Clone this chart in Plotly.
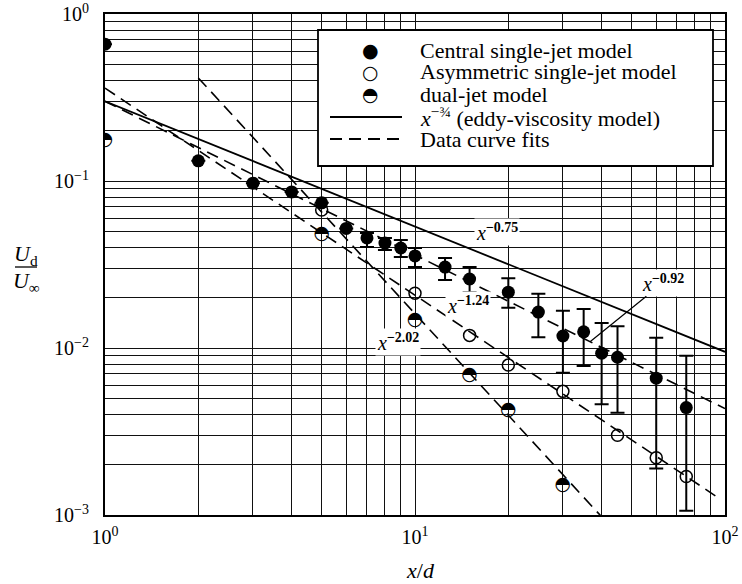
import math
import plotly.graph_objects as go

SERIF = "Liberation Serif, Times New Roman, serif"
GLYPH = "DejaVu Sans"

# ---- measured data -------------------------------------------------------
# Central single-jet model (filled circles) with error bounds
central_x = [1, 2, 3, 4, 5, 6, 7, 8, 9, 10, 12.5, 15, 20, 25, 30, 35, 40, 45, 60, 75]
central_y = [0.66, 0.132, 0.097, 0.086, 0.074, 0.052, 0.0456, 0.0425, 0.0397, 0.0356,
             0.0305, 0.0259, 0.0216, 0.0164, 0.0118, 0.0125, 0.0093, 0.0088, 0.0066, 0.0044]
central_hi = [None, None, None, None, None, None, 0.0489, 0.0456, 0.0443, 0.0397,
              0.0346, 0.0305, 0.0262, 0.0211, 0.0167, 0.0171, 0.0141, 0.0135, 0.0115, 0.0090]
central_lo = [None, None, None, None, None, None, 0.0403, 0.0386, 0.0351, 0.0305,
              0.0255, 0.0216, 0.0174, 0.0116, 0.0071, 0.0078, 0.0046, 0.0041, 0.0019, 0.00106]

# Asymmetric single-jet model (open circles)
asym_x = [5, 10, 15, 20, 30, 45, 60, 75]
asym_y = [0.067, 0.0213, 0.0119, 0.0079, 0.0055, 0.0030, 0.0022, 0.0017]

# Dual-jet model (half-filled circles)
dual_x = [1, 5, 10, 15, 20, 30]
dual_y = [0.176, 0.048, 0.0147, 0.0069, 0.00425, 0.00151]

# Power-law curves  y = coef * x**expo  over [x_start, x_end]
eddy_fit = dict(coef=0.30, expo=-0.75, x_start=1, x_end=100)
central_fit = dict(coef=0.30, expo=-0.92, x_start=1, x_end=100)
asym_fit = dict(coef=0.36, expo=-1.24, x_start=1, x_end=96)
dual_fit = dict(coef=1.68, expo=-2.02, x_start=2, x_end=40)

# Axis ticks
x_decades = [0, 1, 2]
y_decades = [-3, -2, -1, 0]


def powerlaw(fit, x):
    return fit["coef"] * x ** fit["expo"]


def grid_vals(decades):
    vals = []
    for d in decades[:-1]:
        vals += [m * 10.0 ** d for m in range(1, 10)]
    vals.append(10.0 ** decades[-1])
    return vals


def grid_text(decades):
    out = []
    for v in grid_vals(decades):
        e = math.log10(v)
        if abs(e - round(e)) < 1e-9:
            p = int(round(e))
            s = str(p) if p >= 0 else "\u2212" + str(-p)
            out.append("10<sup>" + s + "</sup>")
        else:
            out.append("")
    return out


fig = go.Figure()

# fitted / model lines
for fit, dash in [(eddy_fit, "solid"), (central_fit, "12px,7px"),
                  (asym_fit, "12px,7px"), (dual_fit, "12px,7px")]:
    xs = [fit["x_start"], fit["x_end"]]
    fig.add_trace(go.Scatter(
        x=xs, y=[powerlaw(fit, v) for v in xs], mode="lines",
        line=dict(color="black", width=1.8 if dash == "solid" else 1.6, dash=dash),
        hoverinfo="skip", showlegend=False))

# central single-jet points with error bars
err_plus = [None if h is None else h - y for h, y in zip(central_hi, central_y)]
err_minus = [None if lo is None else y - lo for lo, y in zip(central_lo, central_y)]
fig.add_trace(go.Scatter(
    x=central_x, y=central_y, mode="markers",
    marker=dict(symbol="circle", size=13, color="black"),
    error_y=dict(type="data", symmetric=False, array=err_plus, arrayminus=err_minus,
                 color="black", thickness=2, width=7),
    showlegend=False))

# asymmetric single-jet points
fig.add_trace(go.Scatter(
    x=asym_x, y=asym_y, mode="markers",
    marker=dict(symbol="circle-open", size=12, color="black", line=dict(width=1.5)),
    showlegend=False))

# dual-jet points (upper half filled)
fig.add_trace(go.Scatter(
    x=dual_x, y=dual_y, mode="text", text=["\u25d3"] * len(dual_x),
    textposition="middle center",
    textfont=dict(family=GLYPH, size=19, color="black"),
    showlegend=False))

# ---- fit labels ----------------------------------------------------------
def fit_label(exp_text):
    return ("<i>x</i><sup><b>" + exp_text + "</b></sup>")

label_font = dict(family=SERIF, size=20, color="black")
for txt, lx, ly in [("\u22120.75", 18.4, 0.0495),
                    ("\u22121.24", 14.8, 0.0181),
                    ("\u22122.02", 8.8, 0.0109)]:
    fig.add_annotation(x=math.log10(lx), y=math.log10(ly), xref="x", yref="y",
                       text=fit_label(txt), showarrow=False, font=label_font,
                       bgcolor="white", borderpad=1)

tip_x = 36.7
fig.add_annotation(x=math.log10(tip_x), y=math.log10(powerlaw(central_fit, tip_x)),
                   xref="x", yref="y", text=fit_label("\u22120.92"),
                   showarrow=True, arrowhead=0, arrowwidth=1.2, arrowcolor="black",
                   ax=73, ay=-59, font=label_font, bgcolor="white", borderpad=1)

# ---- legend (drawn by hand) ----------------------------------------------
L, R, T, B = 105, 725, 14, 515


def px(xp):
    return (xp - L) / (R - L)


def py(yp):
    return (B - yp) / (B - T)


def note(xp, yp, text, size, family=SERIF, xanchor="center"):
    fig.add_annotation(x=px(xp), y=py(yp), xref="paper", yref="paper", text=text,
                       xanchor=xanchor, yanchor="middle", showarrow=False,
                       font=dict(family=family, size=size, color="black"))


fig.add_shape(type="rect", xref="paper", yref="paper",
              x0=px(318), x1=px(713), y0=py(166), y1=py(30),
              line=dict(color="black", width=1.8), fillcolor="white", layer="above")

legend_rows = [50, 72, 94, 117, 139]
legend_labels = ["Central single-jet model", "Asymmetric single-jet model",
                 "dual-jet model",
                 "<i>x</i><sup>\u2212\u00be</sup> (eddy-viscosity model)",
                 "Data curve fits"]
legend_glyphs = ["\u25cf", "\u25cb", "\u25d3"]
for g, row in zip(legend_glyphs, legend_rows[:3]):
    note(370, row, g, 19, family=GLYPH)
fig.add_shape(type="line", xref="paper", yref="paper", x0=px(330), x1=px(402),
              y0=py(legend_rows[3]), y1=py(legend_rows[3]),
              line=dict(color="black", width=1.8), layer="above")
fig.add_shape(type="line", xref="paper", yref="paper", x0=px(330), x1=px(402),
              y0=py(legend_rows[4]), y1=py(legend_rows[4]),
              line=dict(color="black", width=1.8, dash="12px,7px"), layer="above")
for lab, row in zip(legend_labels, legend_rows):
    note(418, row, lab, 22, xanchor="left")

# ---- axis titles -----------------------------------------------------------
note(420, 570, "<i>x</i>/<i>d</i>", 22)
note(26, 255, "<i>U</i><sub>d</sub>", 22)
note(26, 282, "<i>U</i><sub>\u221e</sub>", 22)
fig.add_shape(type="line", xref="paper", yref="paper", x0=px(15), x1=px(37),
              y0=py(267), y1=py(267), line=dict(color="black", width=1.3))

axis_common = dict(type="log", showline=True, mirror=True, linecolor="black",
                   linewidth=2.2, showgrid=True, gridcolor="#111111", gridwidth=1,
                   ticks="", zeroline=False, automargin=False,
                   tickfont=dict(family=SERIF, size=20, color="black"))

fig.update_xaxes(range=[x_decades[0], x_decades[-1]], tickmode="array",
                 tickvals=grid_vals(x_decades), ticktext=grid_text(x_decades),
                 ticklabelstandoff=3, **axis_common)
fig.update_yaxes(range=[y_decades[0], y_decades[-1]], tickmode="array",
                 tickvals=grid_vals(y_decades), ticktext=grid_text(y_decades),
                 ticklabelstandoff=10, **axis_common)

fig.update_layout(width=742, height=584,
                  margin=dict(l=L, r=742 - R, t=T, b=584 - B),
                  paper_bgcolor="white", plot_bgcolor="white",
                  showlegend=False)

fig.write_html("out.html")
